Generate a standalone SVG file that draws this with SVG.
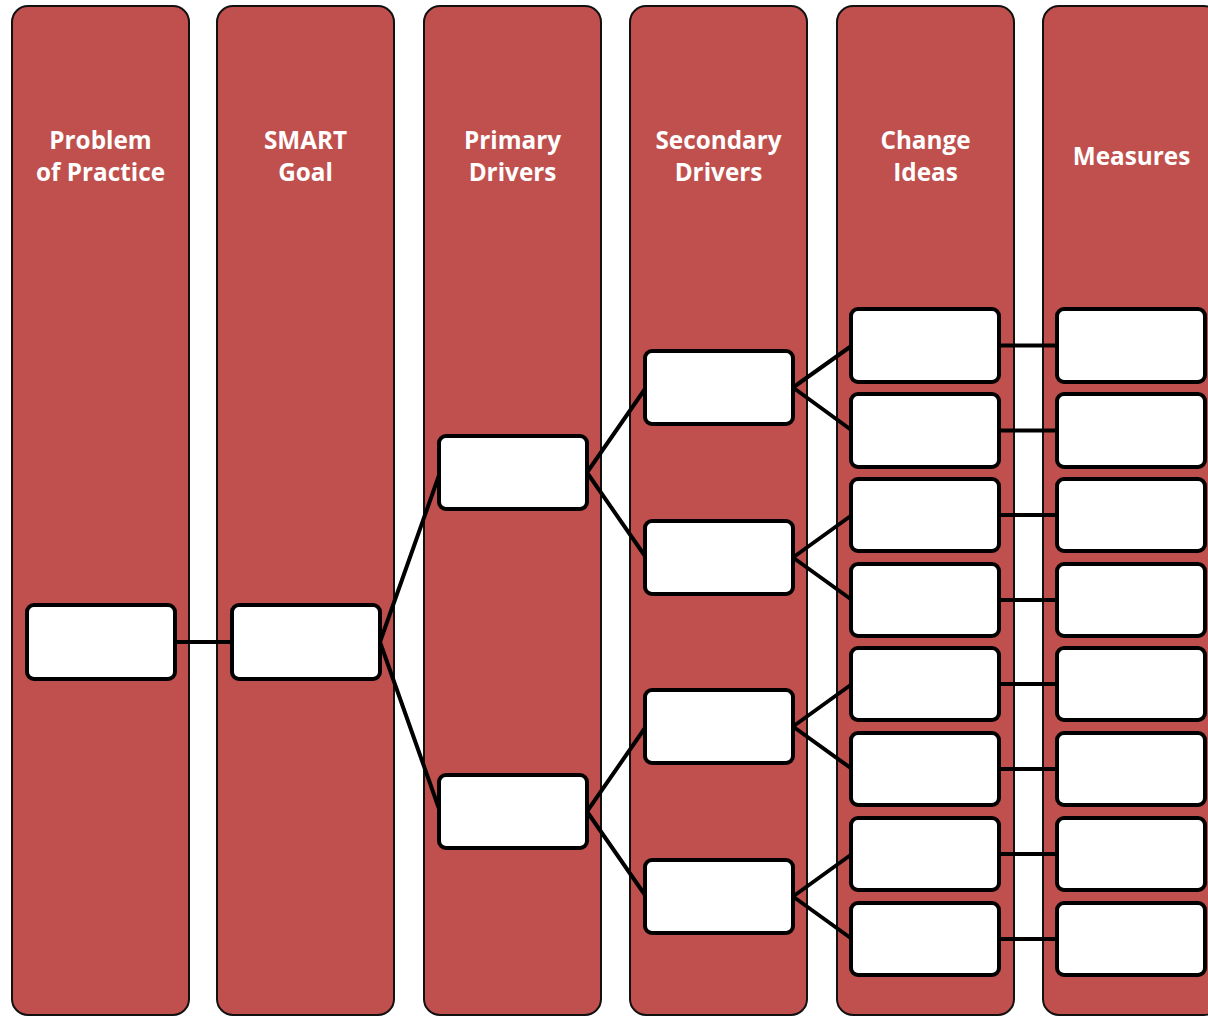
<svg xmlns="http://www.w3.org/2000/svg" width="1208" height="1016" viewBox="0 0 1208 1016">
<style>
.col{fill:#C0504D;stroke:#111;stroke-width:2}
.hd{fill:#fff;font-family:"Open Sans","Liberation Sans",sans-serif;font-weight:bold;font-size:24.3px;text-anchor:middle}
.box{fill:#fff;stroke:#000;stroke-width:4}
.cn{stroke:#000;stroke-width:4;fill:none}
</style>
<rect width="1208" height="1016" fill="#fff"/>
<g id="columns">
<g id="col-problem"><rect class="col" x="12" y="6" width="177" height="1009" rx="16"/><text class="hd" x="100.5" y="149">Problem</text><text class="hd" x="100.5" y="181">of Practice</text></g>
<g id="col-smart"><rect class="col" x="217" y="6" width="177" height="1009" rx="16"/><text class="hd" x="305.5" y="149">SMART</text><text class="hd" x="305.5" y="181">Goal</text></g>
<g id="col-primary"><rect class="col" x="424" y="6" width="177" height="1009" rx="16"/><text class="hd" x="512.5" y="149">Primary</text><text class="hd" x="512.5" y="181">Drivers</text></g>
<g id="col-secondary"><rect class="col" x="630" y="6" width="177" height="1009" rx="16"/><text class="hd" x="718.5" y="149">Secondary</text><text class="hd" x="718.5" y="181">Drivers</text></g>
<g id="col-change"><rect class="col" x="837" y="6" width="177" height="1009" rx="16"/><text class="hd" x="925.5" y="149">Change</text><text class="hd" x="925.5" y="181">Ideas</text></g>
<g id="col-measures"><rect class="col" x="1043" y="6" width="177" height="1009" rx="16"/><text class="hd" x="1131.5" y="165">Measures</text></g>
</g>
<g id="connectors">
<path class="cn" d="M175 642H232"/>
<path class="cn" d="M380 642L440 472.5M380 642L440 811.5"/>
<path class="cn" d="M587 472.5L646 387.5M587 472.5L646 557.5M587 811.5L646 726.5M587 811.5L646 896.5"/>
<path class="cn" d="M793 387.5L852 345.5M793 387.5L852 430.5M793 557.5L852 515M793 557.5L852 600M793 726.5L852 684M793 726.5L852 769M793 896.5L852 854M793 896.5L852 939"/>
<path class="cn" d="M999 345.5H1057M999 430.5H1057M999 515H1057M999 600H1057M999 684H1057M999 769H1057M999 854H1057M999 939H1057"/>
</g>
<g id="n-problem"><rect class="box" x="27" y="605" width="148" height="74" rx="7"/></g>
<g id="n-smart"><rect class="box" x="232" y="605" width="148" height="74" rx="7"/></g>
<g id="n-p1"><rect class="box" x="439" y="436" width="148" height="73" rx="7"/></g>
<g id="n-p2"><rect class="box" x="439" y="775" width="148" height="73" rx="7"/></g>
<g id="n-s1"><rect class="box" x="645" y="351" width="148" height="73" rx="7"/></g>
<g id="n-s2"><rect class="box" x="645" y="521" width="148" height="73" rx="7"/></g>
<g id="n-s3"><rect class="box" x="645" y="690" width="148" height="73" rx="7"/></g>
<g id="n-s4"><rect class="box" x="645" y="860" width="148" height="73" rx="7"/></g>
<g id="n-c1"><rect class="box" x="851" y="309" width="148" height="73" rx="7"/></g>
<g id="n-c2"><rect class="box" x="851" y="394" width="148" height="73" rx="7"/></g>
<g id="n-c3"><rect class="box" x="851" y="479" width="148" height="72" rx="7"/></g>
<g id="n-c4"><rect class="box" x="851" y="564" width="148" height="72" rx="7"/></g>
<g id="n-c5"><rect class="box" x="851" y="648" width="148" height="72" rx="7"/></g>
<g id="n-c6"><rect class="box" x="851" y="733" width="148" height="72" rx="7"/></g>
<g id="n-c7"><rect class="box" x="851" y="818" width="148" height="72" rx="7"/></g>
<g id="n-c8"><rect class="box" x="851" y="903" width="148" height="72" rx="7"/></g>
<g id="n-m1"><rect class="box" x="1057" y="309" width="148" height="73" rx="7"/></g>
<g id="n-m2"><rect class="box" x="1057" y="394" width="148" height="73" rx="7"/></g>
<g id="n-m3"><rect class="box" x="1057" y="479" width="148" height="72" rx="7"/></g>
<g id="n-m4"><rect class="box" x="1057" y="564" width="148" height="72" rx="7"/></g>
<g id="n-m5"><rect class="box" x="1057" y="648" width="148" height="72" rx="7"/></g>
<g id="n-m6"><rect class="box" x="1057" y="733" width="148" height="72" rx="7"/></g>
<g id="n-m7"><rect class="box" x="1057" y="818" width="148" height="72" rx="7"/></g>
<g id="n-m8"><rect class="box" x="1057" y="903" width="148" height="72" rx="7"/></g>
</svg>
